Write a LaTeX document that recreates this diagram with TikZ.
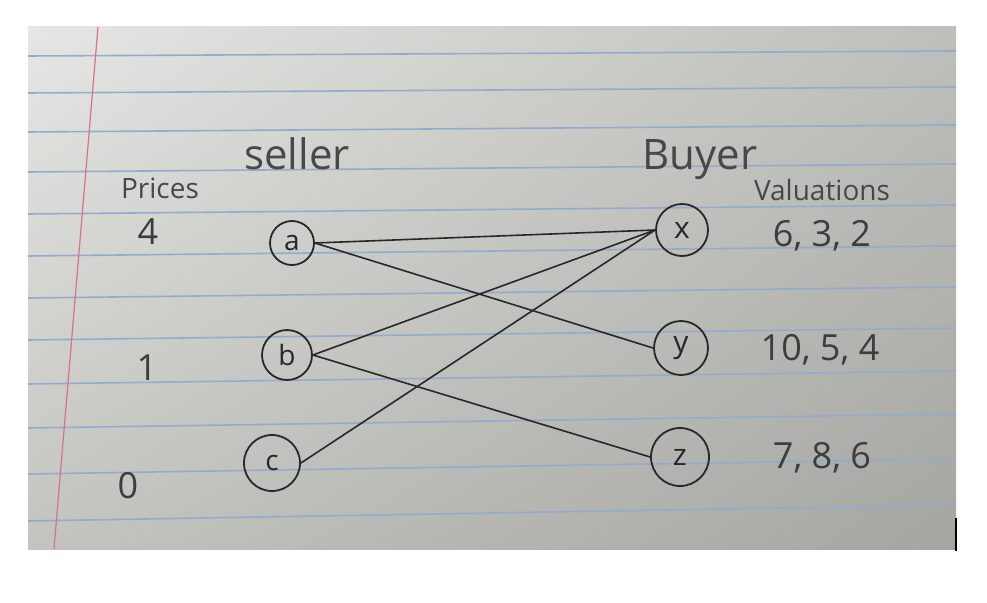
\documentclass[tikz,border=0pt]{standalone}
\usepackage{fontspec}
\setmainfont{Open Sans}
\usepackage{tikz}
\usetikzlibrary{positioning, shadings}
\definecolor{PaperUL}{RGB}{230,231,228}
\definecolor{PaperUR}{RGB}{190,190,186}
\definecolor{PaperLL}{RGB}{195,195,191}
\definecolor{PaperLR}{RGB}{165,165,161}
\definecolor{RuleBlue}{RGB}{150,170,205}
\definecolor{MarginRed}{RGB}{212,115,138}
\definecolor{Ink}{RGB}{40,40,40}

\begin{document}
\begin{tikzpicture}[
    x=1pt, y=-1pt,
    rule/.style={draw=RuleBlue, line width=1.6pt},
    margin/.style={draw=MarginRed, line width=1.2pt},
    seller/.style={circle, draw=Ink, line width=1.8pt, inner sep=0pt,
                   minimum size=48pt, text=Ink, font=\fontsize{28}{28}\selectfont},
    buyer/.style={circle, draw=Ink, line width=1.8pt, inner sep=0pt,
                  minimum size=54pt, text=Ink, font=\fontsize{30}{30}\selectfont},
    head/.style={text=Ink!85, font=\fontsize{42}{42}\selectfont},
    sub/.style={text=Ink!85, font=\fontsize{28}{28}\selectfont},
    num/.style={text=Ink!90, font=\fontsize{36}{36}\selectfont},
    edge/.style={draw=Ink, line width=1.6pt}
]
\useasboundingbox (0,0) rectangle (987,602);

% --- Paper --------------------------------------------------------------
\shade[upper left=PaperUL, upper right=PaperUR,
       lower left=PaperLL, lower right=PaperLR] (28,27) rectangle (956,549);
\foreach \ly [count=\k from 0] in {56,93,132,172,214,256,298,340,384,428,474,521}
    \draw[rule] (28,\ly) -- (956,{\ly-5-\k});
\draw[margin] (98,27) -- (54,549);
\draw[line width=2pt] (956,518) -- (956,551);

% --- Nodes --------------------------------------------------------------
\node[seller, minimum size=44pt] (a) at (292,243) {a};
\node[seller, minimum size=50pt] (b) at (287,355) {b};
\node[seller, minimum size=56pt] (c) at (272,463) {c};
\node[buyer, minimum size=52pt]  (x) at (682,230) {x};
\node[buyer]                     (y) at (681,348) {y};
\node[buyer, minimum size=58pt]  (z) at (680,457) {z};

% --- Labels -------------------------------------------------------------
\node[head] (sellerlbl) at (297,154) {seller};
\node[head] (buyerlbl)  at (700,160) {Buyer};
\node[sub]  (priceslbl) at (160,188) {Prices};
\node[sub]  (vallbl)    at (822,190) {Valuations};

\node[num] (pa) at (148,232) {4};
\node[num] (pb) at (147,368) {1};
\node[num] (pc) at (128,486) {0};

\node[num] (vx) at (822,236) {6, 3, 2};
\node[num] (vy) at (820,350) {10, 5, 4};
\node[num] (vz) at (822,458) {7, 8, 6};

% --- Edges --------------------------------------------------------------
\draw[edge] (a.east) -- (x.west);
\draw[edge] (a.east) -- (y.west);
\draw[edge] (b.east) -- (x.west);
\draw[edge] (b.east) -- (z.west);
\draw[edge] (c.east) -- (x.west);

\end{tikzpicture}
\end{document}
